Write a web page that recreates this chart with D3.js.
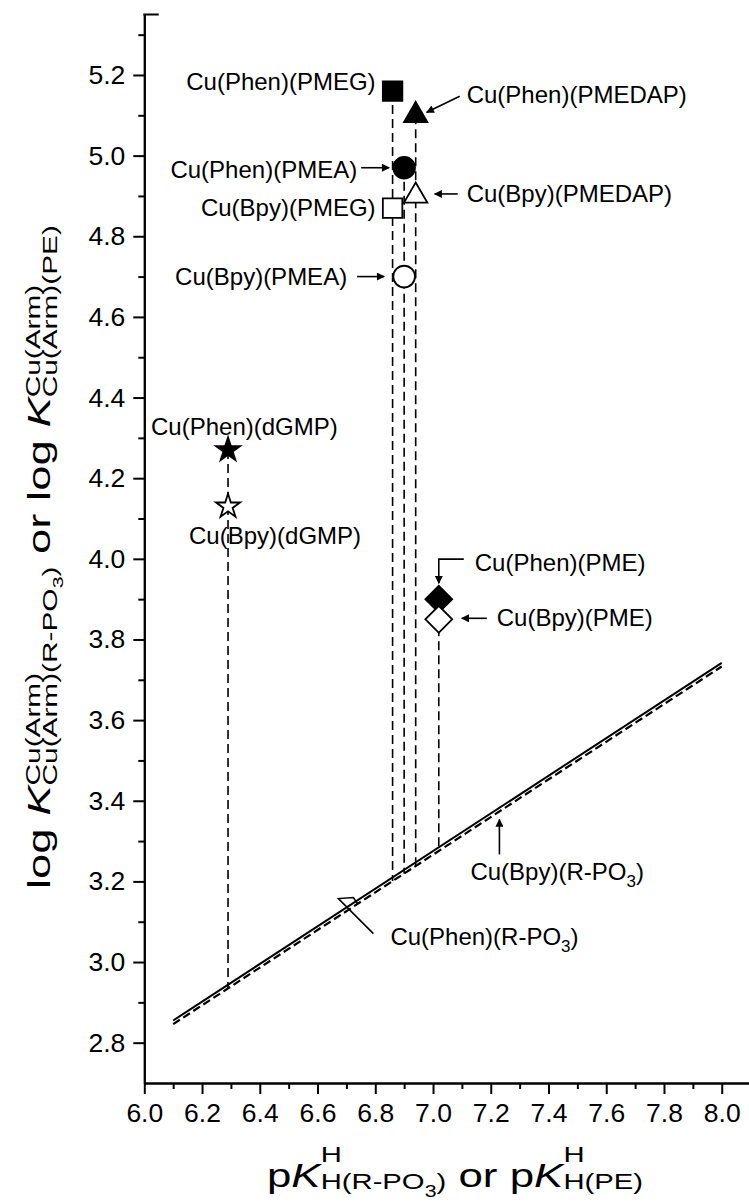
<!DOCTYPE html>
<html>
<head>
<meta charset="utf-8">
<script src="https://cdn.jsdelivr.net/npm/d3@7"></script>
<style>
  body { margin: 0; background: #fff; }
  svg text { font-family: "Liberation Sans", Arial, Helvetica, sans-serif; fill: #000; white-space: pre; }
</style>
</head>
<body>
<script>

// complexes, one entry per marker
var complexes = ["Cu(Phen)(PMEG)", "Cu(Bpy)(PMEG)", "Cu(Phen)(PMEA)", "Cu(Bpy)(PMEA)",
    "Cu(Phen)(PMEDAP)", "Cu(Bpy)(PMEDAP)", "Cu(Phen)(dGMP)", "Cu(Bpy)(dGMP)",
    "Cu(Phen)(PME)", "Cu(Bpy)(PME)"];
var pKaH = [6.86, 6.86, 6.90, 6.90, 6.94, 6.94, 6.29, 6.29, 7.02, 7.02];
var logK = [5.16, 4.87, 4.97, 4.70, 5.10, 4.90, 4.27, 4.13, 3.90, 3.85];
var shapes = ["square", "square", "circle", "circle", "triangle", "triangle",
    "star", "star", "diamond", "diamond"];
var arms = ["Phen", "Bpy", "Phen", "Bpy", "Phen", "Bpy", "Phen", "Bpy", "Phen", "Bpy"];

// straight reference lines for simple phosph(on)ates R-PO3
var linePKa = [6.1, 8.0];
var phenLine = [2.855, 3.742];
var bpyLine = [2.846, 3.733];

var xTicks = [6.0, 6.2, 6.4, 6.6, 6.8, 7.0, 7.2, 7.4, 7.6, 7.8, 8.0];
var xMinor = [6.1, 6.3, 6.5, 6.7, 6.9, 7.1, 7.3, 7.5, 7.7, 7.9];
var yTicks = [2.8, 3.0, 3.2, 3.4, 3.6, 3.8, 4.0, 4.2, 4.4, 4.6, 4.8, 5.0, 5.2];
var yMinor = [2.9, 3.1, 3.3, 3.5, 3.7, 3.9, 4.1, 4.3, 4.5, 4.7, 4.9, 5.1, 5.3];

// label placement, pixels relative to each marker
var notes = [
    { lx: -17, ly: -1, anchor: "end" },
    { lx: -17, ly: 8, anchor: "end" },
    { lx: -47, ly: 10, anchor: "end", arrow: [[-43, 0], [-15, 0]] },
    { lx: -57, ly: 8, anchor: "end", arrow: [[-47, 0], [-20, 0]] },
    { lx: 51, ly: -12, anchor: "start", arrow: [[44, -19], [11, -3]] },
    { lx: 51, ly: 6, anchor: "start", arrow: [[42, -2], [19, -2]] },
    { lx: -77, ly: -15, anchor: "start" },
    { lx: -39, ly: 38, anchor: "start" },
    { lx: 36, ly: -28, anchor: "start", arrow: [[25, -40], [0, -40], [0, -16]] },
    { lx: 58, ly: 7, anchor: "start", arrow: [[48, -1], [23, -1]] }
];

var W = 749, H = 1203;

var svg = d3.select("body")
    .append("svg")
        .attr("width", W)
        .attr("height", H);

var defs = svg.append("defs");
defs.append("marker")
    .attr("id", "head")
    .attr("viewBox", "0 0 10 10")
    .attr("refX", 9)
    .attr("refY", 5)
    .attr("markerWidth", 9)
    .attr("markerHeight", 8)
    .attr("markerUnits", "userSpaceOnUse")
    .attr("orient", "auto")
  .append("path")
    .attr("d", "M0,0L10,5L0,10Z")
    .attr("fill", "#000");

var x = d3.scaleLinear().domain([6.0, 8.1]).range([144.3, 750.6]);
var y = d3.scaleLinear().domain([2.7, 5.35]).range([1083, 14.5]);

var phenAt = d3.scaleLinear().domain(linePKa).range(phenLine);
var bpyAt = d3.scaleLinear().domain(linePKa).range(bpyLine);

// ---- axes ----
function styleAxis(g) {
    g.attr("font-family", null).attr("font-size", null);
    g.selectAll("path.domain").attr("stroke-width", 2);
    g.selectAll(".tick line").attr("stroke-width", 2);
    g.selectAll(".tick text").style("font-size", "26.5px");
}

svg.append("g")
    .attr("transform", "translate(0," + y(2.7) + ")")
    .call(d3.axisBottom(x).tickValues(xMinor).tickSize(6).tickSizeOuter(0).tickFormat(""))
    .call(styleAxis);

svg.append("g")
    .attr("transform", "translate(0," + y(2.7) + ")")
    .call(d3.axisBottom(x).tickValues(xTicks).tickSize(11).tickSizeOuter(0)
        .tickPadding(9).tickFormat(d3.format(".1f")))
    .call(styleAxis);

svg.append("g")
    .attr("transform", "translate(" + x(6.0) + ",0)")
    .call(d3.axisLeft(y).tickValues(yMinor).tickSize(6).tickSizeOuter(0).tickFormat(""))
    .call(styleAxis);

svg.append("g")
    .attr("transform", "translate(" + x(6.0) + ",0)")
    .call(d3.axisLeft(y).tickValues(yTicks).tickSize(11).tickSizeOuter(0)
        .tickPadding(8).tickFormat(d3.format(".1f")))
    .call(styleAxis);

// short stub of the top frame
svg.append("line")
    .attr("x1", x(6.0) - 1).attr("x2", x(6.05))
    .attr("y1", y(5.35)).attr("y2", y(5.35))
    .attr("stroke", "#000")
    .attr("stroke-width", 2);

// ---- rich text with stacked super/subscripts ----
function richRun(g, runs, x0) {
    var cx = x0;
    runs.forEach(function (r) {
        if (r.stack) {
            var start = cx;
            var w = d3.max(r.stack.map(function (row) {
                return richRun(g, row, start) - start;
            }));
            cx = start + w;
        } else {
            var t = g.append("text")
                .attr("x", cx)
                .attr("y", r.dy || 0)
                .style("font-size", r.size + "px")
                .style("font-style", r.italic ? "italic" : "normal")
                .text(r.text);
            cx += t.node().getComputedTextLength();
        }
    });
    return cx;
}

var xTitle = [
    { text: "p", size: 33 },
    { text: "K", size: 33, italic: true },
    { stack: [
        [{ text: "H", size: 22, dy: -25 }],
        [{ text: "H(R-PO", size: 22, dy: 2 }, { text: "3", size: 16, dy: 10 }, { text: ")", size: 22, dy: 2 }]
    ] },
    { text: "\u00a0or\u00a0p", size: 33 },
    { text: "K", size: 33, italic: true },
    { stack: [
        [{ text: "H", size: 22, dy: -25 }],
        [{ text: "H(PE)", size: 22, dy: 2 }]
    ] }
];

var xt = svg.append("g");
var xtw = richRun(xt, xTitle, 0);
xt.attr("transform", "translate(455,1187) scale(1.33,1) translate(" + (-xtw / 2) + ",0)");

var yTitle = [
    { text: "log\u00a0", size: 32 },
    { text: "K", size: 32, italic: true },
    { stack: [
        [{ text: "Cu(Arm)", size: 21, dy: -10 }],
        [{ text: "Cu(Arm)(R-PO", size: 21, dy: 7 }, { text: "3", size: 15, dy: 13 }, { text: ")", size: 21, dy: 7 }]
    ] },
    { text: "\u00a0or\u00a0log\u00a0", size: 32 },
    { text: "K", size: 32, italic: true },
    { stack: [
        [{ text: "Cu(Arm)", size: 21, dy: -10 }],
        [{ text: "Cu(Arm)(PE)", size: 21, dy: 7 }]
    ] }
];

var yt = svg.append("g");
var ytw = richRun(yt, yTitle, 0);
yt.attr("transform", "translate(50,557) rotate(-90) scale(1.42,1) translate(" + (-ytw / 2) + ",0)");

// ---- reference lines ----
var plot = svg.append("g");

var groups = d3.group(d3.range(complexes.length), function (i) { return pKaH[i]; });
groups.forEach(function (idx, p) {
    var top = d3.max(idx, function (i) { return logK[i]; });
    plot.append("line")
        .attr("x1", x(p)).attr("x2", x(p))
        .attr("y1", y(top)).attr("y2", y(bpyAt(p)))
        .attr("stroke", "#000")
        .attr("stroke-width", 1.6)
        .attr("stroke-dasharray", "9,5");
});

var lineGen = d3.line()
    .x(function (d) { return x(d[0]); })
    .y(function (d) { return y(d[1]); });

plot.append("path")
    .attr("d", lineGen(d3.zip(linePKa, bpyLine)))
    .attr("fill", "none")
    .attr("stroke", "#000")
    .attr("stroke-width", 2.2)
    .attr("stroke-dasharray", "8,4");

plot.append("path")
    .attr("d", lineGen(d3.zip(linePKa, phenLine)))
    .attr("fill", "none")
    .attr("stroke", "#000")
    .attr("stroke-width", 2);

// ---- markers ----
var symbolTypes = {
    square: [d3.symbolSquare, 380, 0],
    circle: [d3.symbolCircle, 370, 0],
    triangle: [d3.symbolTriangle, 235, 0],
    star: [d3.symbolStar, 180, 0],
    diamond: [d3.symbolSquare, 360, 45]
};

plot.selectAll("path.mark")
    .data(d3.range(complexes.length))
    .join("path")
        .attr("class", "mark")
        .attr("d", function (i) {
            var s = symbolTypes[shapes[i]];
            return d3.symbol().type(s[0]).size(s[1])();
        })
        .attr("transform", function (i) {
            return "translate(" + x(pKaH[i]) + "," + y(logK[i]) + ") rotate(" + symbolTypes[shapes[i]][2] + ")";
        })
        .attr("fill", function (i) { return arms[i] === "Phen" ? "#000" : "#fff"; })
        .attr("stroke", "#000")
        .attr("stroke-width", 1.8);

// ---- labels and arrows ----
var notesG = svg.append("g");

notes.forEach(function (n, i) {
    var px = x(pKaH[i]), py = y(logK[i]);
    notesG.append("text")
        .attr("x", px + n.lx)
        .attr("y", py + n.ly)
        .attr("text-anchor", n.anchor)
        .style("font-size", "24px")
        .text(complexes[i]);
    if (n.arrow) {
        notesG.append("path")
            .attr("d", d3.line()(n.arrow.map(function (p) { return [px + p[0], py + p[1]]; })))
            .attr("fill", "none")
            .attr("stroke", "#000")
            .attr("stroke-width", 1.6)
            .attr("marker-end", "url(#head)");
    }
});

// R-PO3 line labels
function rpo3Label(px, py, arm) {
    var t = notesG.append("text")
        .attr("x", px)
        .attr("y", py)
        .style("font-size", "24px");
    t.append("tspan").text("Cu(" + arm + ")(R-PO");
    t.append("tspan").attr("dy", 7).style("font-size", "17px").text("3");
    t.append("tspan").attr("dy", -7).text(")");
}

var bx = x(7.23), by = y(bpyAt(7.23));
rpo3Label(bx - 29, by + 69, "Bpy");
notesG.append("line")
    .attr("x1", bx).attr("x2", bx)
    .attr("y1", by + 43).attr("y2", by + 8)
    .attr("stroke", "#000")
    .attr("stroke-width", 1.6)
    .attr("marker-end", "url(#head)");

var fx = x(6.70), fy = y(phenAt(6.70));
rpo3Label(fx + 44, fy + 37, "Phen");
notesG.append("path")
    .attr("d", d3.line()([[fx + 27, fy + 26], [fx - 8, fy - 9], [fx + 7, fy - 10], [fx + 11, fy - 4]]))
    .attr("fill", "none")
    .attr("stroke", "#000")
    .attr("stroke-width", 1.6);

</script>
</body>
</html>
